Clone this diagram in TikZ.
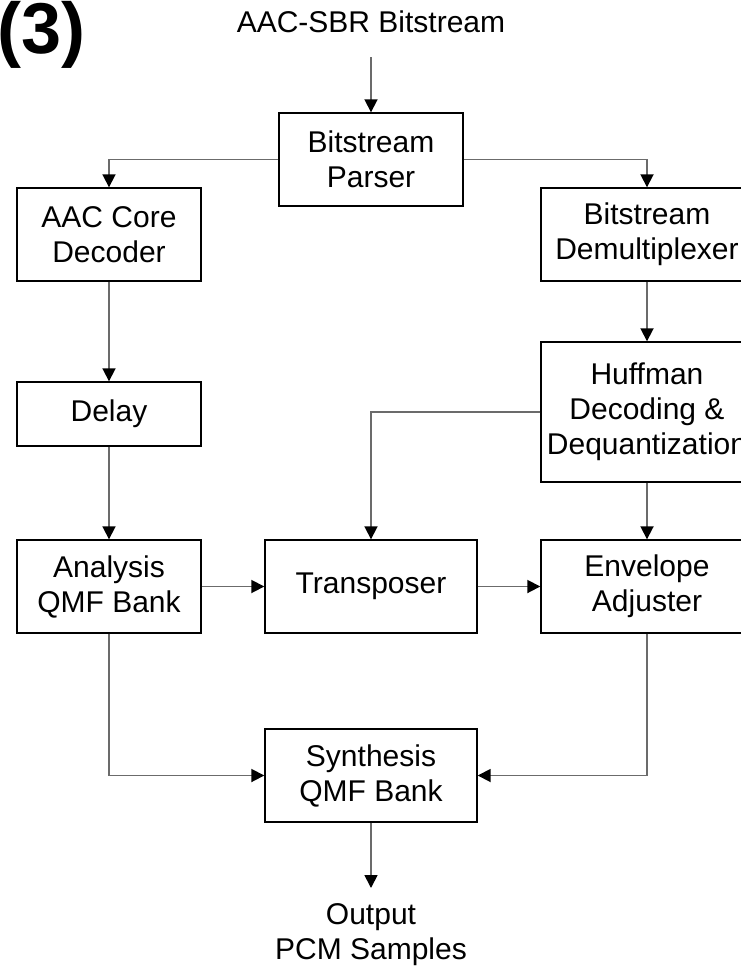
\documentclass[tikz,border=0pt]{standalone}
\usepackage{fontspec}
\setmainfont{Liberation Sans}
\newfontfamily\tagfont{Liberation Sans}
\usetikzlibrary{arrows.meta}

\begin{document}
\begin{tikzpicture}[x=1pt, y=-1pt, font=\fontsize{30}{35}\selectfont,
  proc/.style={draw=black, line width=1.4pt, inner sep=0pt, align=center,
    minimum width=212pt, minimum height=93pt},
  narrow/.style={minimum width=184pt},
  link/.style={draw=black!58, line width=1.8pt,
    -{Triangle[length=13pt, width=13pt, color=black]}},
  lbl/.style={align=center, inner sep=0pt}]
  \useasboundingbox (0,0) rectangle (741,967);
  \clip (0,0) rectangle (741,967);
  % Figure tag and input
  \node[anchor=base west, inner sep=0pt, font=\tagfont\fontsize{72}{74}\selectfont\bfseries]
    (tag) at (-3,53) {(3)};
  \node[anchor=base, inner sep=0pt] (bits) at (371,32) {AAC-SBR Bitstream};
  \coordinate (bitsend) at (371,57);
  % Blocks
  \node[proc, narrow] (parser) at (371,159.5) {Bitstream\\Parser};
  \node[proc, narrow] (core) at (109,234.5) {AAC Core\\Decoder};
  \node[proc] (demux) at (647,234.5) {Bitstream\\Demultiplexer};
  \node[proc, narrow, minimum height=64pt] (delay) at (109,414) {Delay};
  \node[proc, minimum height=140pt] (huff) at (647,412) {Huffman\\Decoding \&\\Dequantization};
  \node[proc, narrow] (analysis) at (109,586.5) {Analysis\\QMF Bank};
  \node[proc] (trans) at (371,586.5) {Transposer};
  \node[proc] (env) at (647,586.5) {Envelope\\Adjuster};
  \node[proc] (synth) at (371,775.5) {Synthesis\\QMF Bank};
  % Output
  \coordinate (outend) at (371,888);
  \node[lbl] (pcm) at (371,935) {Output\\PCM Samples};
  % Connections
  \draw[link] (bitsend) -- (parser.north);
  \draw[link] (parser.west) -| (core.north);
  \draw[link] (parser.east) -| (demux.north);
  \draw[link] (core) -- (delay);
  \draw[link] (delay) -- (analysis);
  \draw[link] (demux) -- (huff);
  \draw[link] (huff) -- (env);
  \draw[link] (huff.west) -| (trans.north);
  \draw[link] (analysis) -- (trans);
  \draw[link] (trans) -- (env);
  \draw[link] (analysis.south) |- (synth.west);
  \draw[link] (env.south) |- (synth.east);
  \draw[link] (synth) -- (outend);
\end{tikzpicture}
\end{document}
